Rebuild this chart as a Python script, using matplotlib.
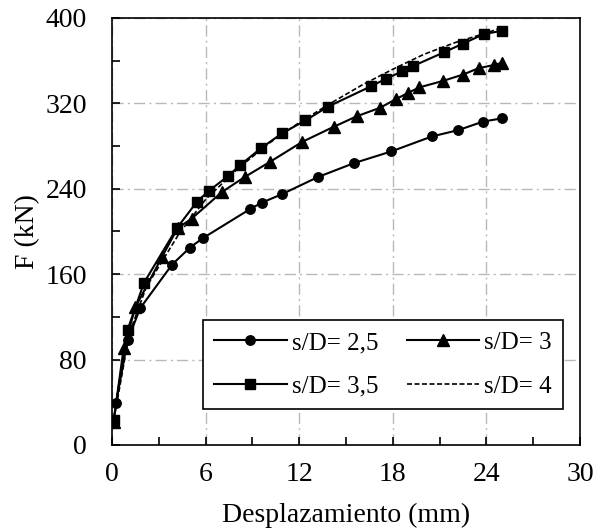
import matplotlib
matplotlib.use("Agg")
import matplotlib.pyplot as plt
from matplotlib.ticker import MultipleLocator

plt.rcParams['font.family'] = ['Liberation Serif', 'DejaVu Serif']
plt.rcParams['mathtext.fontset'] = 'stix'

labels = ["s/D= 2,5", "s/D= 3", "s/D= 3,5", "s/D= 4"]

x25 = [0.25, 1.0, 1.8, 3.85, 5.0, 5.85, 8.85, 9.6, 10.9, 13.2, 15.5, 17.9, 20.5, 22.2, 23.8, 25.0]
y25 = [39, 98, 128, 169, 185, 194, 221, 227, 235, 251, 264, 275, 289, 295, 303, 306]

x30 = [0.1, 0.75, 1.5, 3.2, 4.2, 5.1, 7.05, 8.5, 10.1, 12.2, 14.2, 15.7, 17.2, 18.2, 19.0, 19.7, 21.2, 22.5, 23.5, 24.5, 25.0]
y30 = [22, 91, 129, 176, 203, 212, 237, 251, 265, 284, 298, 308, 316, 324, 330, 335, 341, 347, 353, 356, 358]

x35 = [0.1, 1.0, 2.05, 4.15, 5.45, 6.2, 7.45, 8.2, 9.55, 10.9, 12.4, 13.85, 16.6, 17.55, 18.6, 19.3, 21.3, 22.5, 23.85, 25.0]
y35 = [23, 108, 152, 203, 228, 238, 252, 262, 278, 292, 304, 317, 336, 343, 350, 355, 368, 376, 385, 388]

x40 = [0.1, 1.1, 2.2, 4.3, 6.0, 8.0, 10.0, 12.0, 14.0, 16.0, 18.0, 20.0, 22.0, 24.0, 25.0]
y40 = [22, 104, 148, 198, 230, 258, 282, 302, 320, 337, 352, 366, 377, 386, 391]

xticks = [0, 6, 12, 18, 24, 30]
yticks = [0, 80, 160, 240, 320, 400]

fig = plt.figure(figsize=(5.97, 5.32), dpi=100)
ax = fig.add_axes([112/597, 1-445/532, 468/597, 427/532])

h25, = ax.plot(x25, y25, '-', color='black', lw=1.5, marker='o', ms=6.8, label=labels[0], zorder=3)
h30, = ax.plot(x30, y30, '-', color='black', lw=1.5, marker='^', ms=8, label=labels[1], zorder=3)
h35, = ax.plot(x35, y35, '-', color='black', lw=1.5, marker='s', ms=7, label=labels[2], zorder=3)
h40, = ax.plot(x40, y40, '--', color='black', lw=1.2, dashes=(3, 1.5), label=labels[3], zorder=3)

ax.set_xlim(0, 30)
ax.set_ylim(0, 400)
ax.set_xticks(xticks)
ax.set_yticks(yticks)
ax.xaxis.set_minor_locator(MultipleLocator(3))
ax.yaxis.set_minor_locator(MultipleLocator(40))
ax.tick_params(which='both', direction='in', labelsize=20, width=1.2, color='black')
ax.tick_params(which='major', length=6)
ax.tick_params(which='minor', length=6)
ax.tick_params(axis='x', which='major', pad=12)
ax.tick_params(axis='y', which='major', pad=18)
ax.grid(True, which='major', color='#b8b8b8', lw=1.0, linestyle=(0, (8, 3, 1.5, 3)))
ax.set_axisbelow(True)
for s in ax.spines.values():
    s.set_linewidth(1.2)

ax.set_xlabel("Desplazamiento (mm)", fontsize=20, labelpad=12)
ax.set_ylabel("F (kN)", fontsize=20, labelpad=4)

leg = ax.legend([h25, h35, h30, h40], [labels[0], labels[2], labels[1], labels[3]],
                loc='lower left', bbox_to_anchor=(0.194, 0.084, 0.77, 0.2), mode='expand',
                ncol=2, fontsize=18, frameon=True, fancybox=False, edgecolor='black',
                handlelength=2.9, handletextpad=0.2, columnspacing=0.8, borderaxespad=0,
                labelspacing=0.85, borderpad=0.45)
leg.get_frame().set_linewidth(1.2)
leg.get_frame().set_alpha(1)

fig.savefig("out.png", dpi=100)
